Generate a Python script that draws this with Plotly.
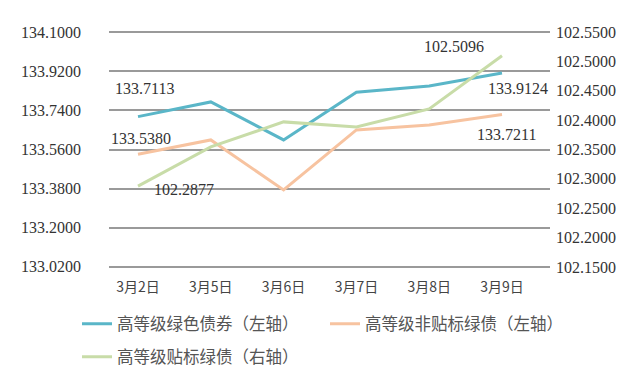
import plotly.graph_objects as go

categories = ["3月2日", "3月5日", "3月6日", "3月7日", "3月8日", "3月9日"]
green_bond = [133.7113, 133.779, 133.604, 133.824, 133.852, 133.9124]
non_label = [133.5380, 133.604, 133.374, 133.650, 133.673, 133.7211]
labeled = [102.2877, 102.3545, 102.397, 102.3885, 102.419, 102.5096]

names = ["高等级绿色债券（左轴）", "高等级非贴标绿债（左轴）", "高等级贴标绿债（右轴）"]
colors = ["#5ab6c8", "#f7c3a0", "#c8dca8"]

left_ticks = [133.02, 133.20, 133.38, 133.56, 133.74, 133.92, 134.10]
right_ticks = [102.15, 102.20, 102.25, 102.30, 102.35, 102.40, 102.45, 102.50, 102.55]

num_font = "Liberation Serif"
cjk_font = "Noto Sans CJK SC"

fig = go.Figure()
fig.add_trace(go.Scatter(x=categories, y=green_bond, mode="lines", name=names[0],
                         line=dict(color=colors[0], width=3), legend="legend"))
fig.add_trace(go.Scatter(x=categories, y=non_label, mode="lines", name=names[1],
                         line=dict(color=colors[1], width=3), legend="legend2"))
fig.add_trace(go.Scatter(x=categories, y=labeled, mode="lines", name=names[2], yaxis="y2",
                         line=dict(color=colors[2], width=3), legend="legend3"))

# data labels (first and last point of each series)
label_specs = [
    (categories[0], green_bond[0], "y", 6, 28),
    (categories[-1], green_bond[-1], "y", 16, -16),
    (categories[0], non_label[0], "y", 3, 16),
    (categories[-1], non_label[-1], "y", 4, -20),
    (categories[0], labeled[0], "y2", 46, -3),
    (categories[-1], labeled[-1], "y2", -48, 9),
]
for xv, yv, yref, dx, dy in label_specs:
    fig.add_annotation(x=xv, y=yv, xref="x", yref=yref, text=f"{yv:.4f}",
                       showarrow=False, xshift=dx, yshift=dy,
                       font=dict(family=num_font, size=16, color="#333333"))

legend_common = dict(orientation="h", xref="container", yref="container",
                     xanchor="left", yanchor="middle", itemwidth=30,
                     font=dict(family=cjk_font, size=16.5, color="#555555"),
                     bgcolor="rgba(0,0,0,0)")

fig.update_layout(
    width=632, height=373,
    margin=dict(l=101, r=90, t=22, b=112, autoexpand=False),
    paper_bgcolor="white", plot_bgcolor="white",
    showlegend=True,
    legend=dict(legend_common, x=69 / 632, y=1 - 316 / 373),
    legend2=dict(legend_common, x=317 / 632, y=1 - 316 / 373),
    legend3=dict(legend_common, x=69 / 632, y=1 - 349 / 373),
    xaxis=dict(type="category", showgrid=False, zeroline=False, showline=False,
               ticks="", ticklabelstandoff=8,
               tickfont=dict(family=cjk_font, size=14, color="#444444")),
    yaxis=dict(range=[133.01, 134.11], tickvals=left_ticks,
               ticktext=[f"{v:.4f}" for v in left_ticks],
               showgrid=True, gridcolor="#9a9a9a", gridwidth=2, zeroline=False,
               showline=False, ticks="", ticklabelstandoff=27,
               tickfont=dict(family=num_font, size=16, color="#333333")),
    yaxis2=dict(range=[102.1466, 102.5534],
                tickvals=right_ticks,
                ticktext=[f"{v:.4f}" for v in right_ticks],
                overlaying="y", side="right", showgrid=False, zeroline=False,
                showline=False, ticks="", ticklabelstandoff=5,
                tickfont=dict(family=num_font, size=16, color="#333333")),
)

fig.write_html("out.html")
